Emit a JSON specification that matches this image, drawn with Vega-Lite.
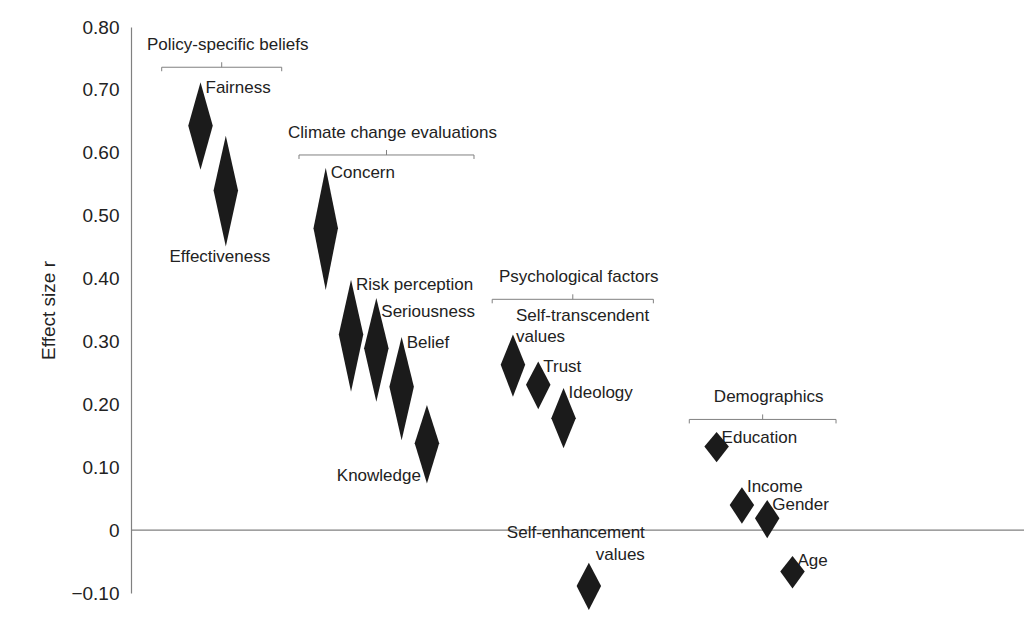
{
  "$schema": "https://vega.github.io/schema/vega-lite/v6.json",
  "width": 893,
  "height": 566,
  "autosize": {"type": "none"},
  "padding": {"left": 131, "top": 27, "right": 0, "bottom": 28},
  "background": "white",
  "config": {
    "view": {"stroke": null},
    "font": "Liberation Sans",
    "text": {"font": "Liberation Sans", "fontSize": 17, "color": "#222222"},
    "axisY": {
      "ticks": false,
      "grid": false,
      "domainColor": "#808080",
      "domainWidth": 1.2,
      "labelFont": "Liberation Sans",
      "labelFontSize": 19,
      "labelColor": "#222222",
      "labelPadding": 12,
      "titleFont": "Liberation Sans",
      "titleFontSize": 19,
      "titleFontWeight": "normal",
      "titleColor": "#222222",
      "titlePadding": 12
    }
  },
  "datasets": {
    "effects": [
      {"label": "Fairness", "group": "Policy-specific beliefs", "slot": 1, "lower": 0.573, "r": 0.643, "upper": 0.712},
      {"label": "Effectiveness", "group": "Policy-specific beliefs", "slot": 2, "lower": 0.451, "r": 0.540, "upper": 0.627},
      {"label": "Concern", "group": "Climate change evaluations", "slot": 5.95, "lower": 0.382, "r": 0.480, "upper": 0.576},
      {"label": "Risk perception", "group": "Climate change evaluations", "slot": 6.95, "lower": 0.220, "r": 0.311, "upper": 0.398},
      {"label": "Seriousness", "group": "Climate change evaluations", "slot": 7.95, "lower": 0.204, "r": 0.289, "upper": 0.369},
      {"label": "Belief", "group": "Climate change evaluations", "slot": 8.95, "lower": 0.143, "r": 0.228, "upper": 0.307},
      {"label": "Knowledge", "group": "Climate change evaluations", "slot": 9.95, "lower": 0.074, "r": 0.138, "upper": 0.199},
      {"label": "Self-transcendent values", "group": "Psychological factors", "slot": 13.35, "lower": 0.212, "r": 0.263, "upper": 0.311},
      {"label": "Trust", "group": "Psychological factors", "slot": 14.35, "lower": 0.192, "r": 0.231, "upper": 0.268},
      {"label": "Ideology", "group": "Psychological factors", "slot": 15.35, "lower": 0.130, "r": 0.178, "upper": 0.226},
      {"label": "Self-enhancement values", "group": "Psychological factors", "slot": 16.35, "lower": -0.127, "r": -0.089, "upper": -0.052},
      {"label": "Education", "group": "Demographics", "slot": 21.4, "lower": 0.108, "r": 0.133, "upper": 0.156},
      {"label": "Income", "group": "Demographics", "slot": 22.4, "lower": 0.010, "r": 0.040, "upper": 0.068},
      {"label": "Gender", "group": "Demographics", "slot": 23.4, "lower": -0.013, "r": 0.019, "upper": 0.048},
      {"label": "Age", "group": "Demographics", "slot": 24.4, "lower": -0.093, "r": -0.066, "upper": -0.041}
    ],
    "groups": [
      {"group": "Policy-specific beliefs", "level": 0.736, "xs": -0.534, "xe": 4.21},
      {"group": "Climate change evaluations", "level": 0.5965, "xs": 4.893, "xe": 11.81},
      {"group": "Psychological factors", "level": 0.367, "xs": 12.53, "xe": 18.9},
      {"group": "Demographics", "level": 0.176, "xs": 20.32, "xe": 26.12}
    ]
  },
  "layer": [
    {
      "data": {"name": "effects"},
      "transform": [{"filter": {"not": {"field": "label", "oneOf": ["Effectiveness", "Knowledge", "Self-transcendent values", "Self-enhancement values", "Income", "Seriousness"]}}}],
      "mark": {"type": "text", "align": "left", "baseline": "alphabetic", "dx": 5, "dy": 10.5},
      "encoding": {
        "x": {"field": "slot", "type": "quantitative", "scale": {"domain": [-1.747, 33.55], "nice": false, "zero": false}, "axis": null},
        "y": {
          "field": "upper",
          "type": "quantitative",
          "scale": {"domain": [-0.1, 0.8], "nice": false, "zero": false},
          "axis": {
            "title": "Effect size r",
            "values": [-0.1, 0, 0.1, 0.2, 0.3, 0.4, 0.5, 0.6, 0.7, 0.8],
            "labelExpr": "datum.value === 0 ? '0' : format(datum.value, '.2f')"
          }
        },
        "text": {"field": "label"}
      }
    },
    {
      "data": {"values": [{}]},
      "mark": {"type": "rule", "color": "#808080", "strokeWidth": 1.2},
      "encoding": {
        "y": {"datum": 0, "type": "quantitative"}
      }
    },
    {
      "data": {"name": "effects"},
      "transform": [
        {"fold": ["upper", "r", "lower"], "as": ["bound", "v"]}
      ],
      "mark": {
        "type": "area",
        "orient": "horizontal",
        "color": "#1b1b1b",
        "xOffset": {"expr": "datum.bound === 'r' ? -12.25 : 0"},
        "x2Offset": {"expr": "datum.bound === 'r' ? 12.25 : 0"}
      },
      "encoding": {
        "x": {"field": "slot", "type": "quantitative", "axis": null, "stack": null},
        "x2": {"field": "slot"},
        "y": {"field": "v", "type": "quantitative"},
        "detail": {"field": "label"}
      }
    },
    {
      "data": {"name": "effects"},
      "transform": [{"filter": {"field": "label", "equal": "Income"}}],
      "mark": {"type": "text", "align": "left", "baseline": "alphabetic", "dx": 5, "dy": 4.5},
      "encoding": {
        "x": {"field": "slot", "type": "quantitative", "axis": null},
        "y": {"field": "upper", "type": "quantitative"},
        "text": {"field": "label"}
      }
    },
    {
      "data": {"name": "effects"},
      "transform": [{"filter": {"field": "label", "equal": "Seriousness"}}],
      "mark": {"type": "text", "align": "left", "baseline": "alphabetic", "dx": 5, "dy": 19},
      "encoding": {
        "x": {"field": "slot", "type": "quantitative", "axis": null},
        "y": {"field": "upper", "type": "quantitative"},
        "text": {"field": "label"}
      }
    },
    {
      "data": {"name": "effects"},
      "transform": [{"filter": {"field": "label", "equal": "Effectiveness"}}],
      "mark": {"type": "text", "align": "center", "baseline": "alphabetic", "dx": -6, "dy": 16},
      "encoding": {
        "x": {"field": "slot", "type": "quantitative", "axis": null},
        "y": {"field": "lower", "type": "quantitative"},
        "text": {"field": "label"}
      }
    },
    {
      "data": {"name": "effects"},
      "transform": [{"filter": {"field": "label", "equal": "Knowledge"}}],
      "mark": {"type": "text", "align": "right", "baseline": "alphabetic", "dx": -6, "dy": -3},
      "encoding": {
        "x": {"field": "slot", "type": "quantitative", "axis": null},
        "y": {"field": "lower", "type": "quantitative"},
        "text": {"field": "label"}
      }
    },
    {
      "data": {"name": "effects"},
      "transform": [{"filter": {"field": "label", "equal": "Self-transcendent values"}}],
      "mark": {"type": "text", "align": "left", "baseline": "alphabetic", "dx": 3, "dy": -14, "lineBreak": " ", "lineHeight": 21},
      "encoding": {
        "x": {"field": "slot", "type": "quantitative", "axis": null},
        "y": {"field": "upper", "type": "quantitative"},
        "text": {"field": "label"}
      }
    },
    {
      "data": {"name": "effects"},
      "transform": [{"filter": {"field": "label", "equal": "Self-enhancement values"}}],
      "mark": {"type": "text", "align": "right", "baseline": "alphabetic", "dx": 56, "dy": -25, "lineBreak": " ", "lineHeight": 21.7},
      "encoding": {
        "x": {"field": "slot", "type": "quantitative", "axis": null},
        "y": {"field": "upper", "type": "quantitative"},
        "text": {"field": "label"}
      }
    },
    {
      "data": {"name": "groups"},
      "mark": {"type": "rule", "color": "#808080", "strokeWidth": 1},
      "encoding": {
        "x": {"field": "xs", "type": "quantitative", "axis": null},
        "x2": {"field": "xe"},
        "y": {"field": "level", "type": "quantitative"}
      }
    },
    {
      "data": {"name": "groups"},
      "transform": [{"fold": ["xs", "xe"], "as": ["end", "xv"]}],
      "mark": {"type": "rule", "color": "#808080", "strokeWidth": 1, "y2Offset": 4},
      "encoding": {
        "x": {"field": "xv", "type": "quantitative", "axis": null},
        "y": {"field": "level", "type": "quantitative"},
        "y2": {"field": "level"}
      }
    },
    {
      "data": {"name": "groups"},
      "transform": [
        {"fold": ["xs", "xe"], "as": ["end", "xv"]},
        {"aggregate": [{"op": "mean", "field": "xv", "as": "xm"}], "groupby": ["group", "level"]}
      ],
      "layer": [
        {
          "mark": {"type": "rule", "color": "#808080", "strokeWidth": 1, "y2Offset": -5},
          "encoding": {
            "x": {"field": "xm", "type": "quantitative", "axis": null},
            "y": {"field": "level", "type": "quantitative"},
            "y2": {"field": "level"}
          }
        },
        {
          "mark": {"type": "text", "align": "center", "baseline": "alphabetic", "dx": 6, "dy": -17},
          "encoding": {
            "x": {"field": "xm", "type": "quantitative", "axis": null},
            "y": {"field": "level", "type": "quantitative"},
            "text": {"field": "group"}
          }
        }
      ]
    }
  ]
}
